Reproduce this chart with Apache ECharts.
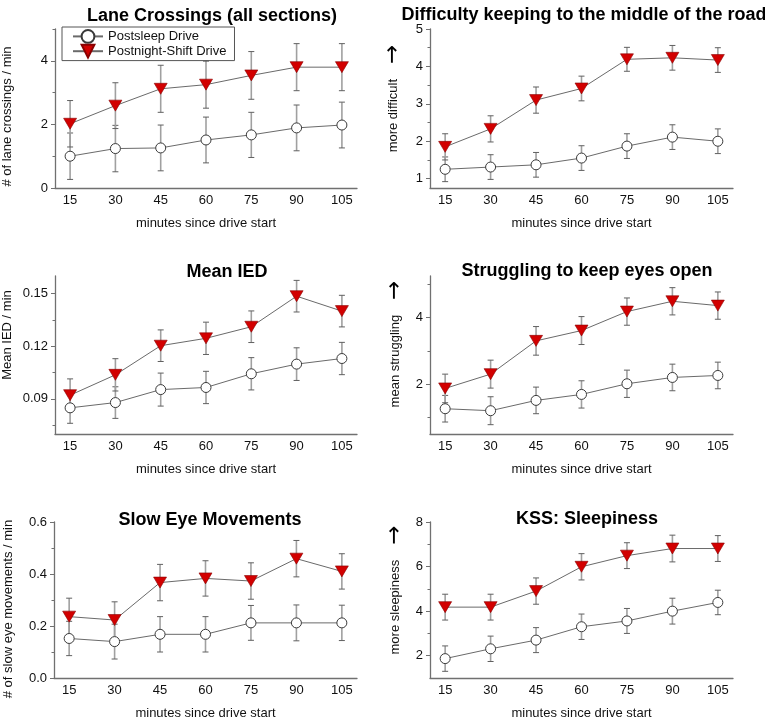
<!DOCTYPE html>
<html>
<head>
<meta charset="utf-8">
<script src="https://cdn.jsdelivr.net/npm/echarts@6/dist/echarts.min.js"></script>
<style>
html,body{margin:0;padding:0;background:#fff;}
#chart{width:765px;height:721px;}
</style>
</head>
<body>
<div id="chart"></div>
<script>
// ---- data ----
const minutes = [15, 30, 45, 60, 75, 90, 105];
const seriesNames = ['Postsleep Drive', 'Postnight-Shift Drive'];
const xAxisTitle = 'minutes since drive start';

// Lane crossings
const laneSleep = [1.00, 1.24, 1.26, 1.51, 1.67, 1.89, 1.98];
const laneSleepErr = [0.73, 0.73, 0.72, 0.72, 0.71, 0.72, 0.72];
const laneNight = [2.02, 2.59, 3.12, 3.25, 3.54, 3.80, 3.80];
const laneNightErr = [0.73, 0.72, 0.74, 0.74, 0.75, 0.74, 0.74];
const laneTicks = [0, 2, 4];
const laneMinor = [1, 3, 5];

// Difficulty keeping to the middle of the road
const diffSleep = [1.25, 1.31, 1.37, 1.55, 1.87, 2.11, 2.00];
const diffSleepErr = [0.33, 0.33, 0.33, 0.33, 0.33, 0.33, 0.33];
const diffNight = [1.85, 2.33, 3.10, 3.41, 4.19, 4.23, 4.17];
const diffNightErr = [0.35, 0.35, 0.35, 0.33, 0.32, 0.33, 0.33];
const diffTicks = [1, 2, 3, 4, 5];
const diffMinor = [1.5, 2.5, 3.5, 4.5];

// Mean IED
const iedSleep = [0.0849, 0.0879, 0.0953, 0.0965, 0.1043, 0.1098, 0.1130];
const iedSleepErr = [0.0088, 0.0090, 0.0094, 0.0092, 0.0092, 0.0093, 0.0092];
const iedNight = [0.0921, 0.1037, 0.1203, 0.1245, 0.1311, 0.1485, 0.1400];
const iedNightErr = [0.0093, 0.0092, 0.0090, 0.0092, 0.0090, 0.0090, 0.0090];
const iedTicks = [0.09, 0.12, 0.15];
const iedMinor = [0.075, 0.105, 0.135];

// Struggling to keep eyes open
const strugSleep = [1.26, 1.20, 1.51, 1.69, 2.01, 2.20, 2.26];
const strugSleepErr = [0.40, 0.42, 0.40, 0.41, 0.41, 0.40, 0.40];
const strugNight = [1.87, 2.30, 3.30, 3.61, 4.18, 4.49, 4.36];
const strugNightErr = [0.43, 0.42, 0.43, 0.42, 0.41, 0.41, 0.41];
const strugTicks = [2, 4];
const strugMinor = [1, 3, 5];

// Slow eye movements
const semSleep = [0.152, 0.140, 0.168, 0.168, 0.212, 0.212, 0.212];
const semSleepErr = [0.066, 0.067, 0.068, 0.068, 0.067, 0.069, 0.068];
const semNight = [0.236, 0.223, 0.367, 0.383, 0.373, 0.459, 0.410];
const semNightErr = [0.071, 0.070, 0.070, 0.068, 0.070, 0.070, 0.068];
const semTicks = [0.0, 0.2, 0.4, 0.6];
const semMinor = [0.1, 0.3, 0.5];

// KSS sleepiness
const kssSleep = [1.87, 2.31, 2.70, 3.30, 3.56, 4.00, 4.39];
const kssSleepErr = [0.57, 0.57, 0.56, 0.57, 0.56, 0.58, 0.55];
const kssNight = [4.18, 4.18, 4.90, 5.99, 6.49, 6.81, 6.81];
const kssNightErr = [0.58, 0.58, 0.59, 0.59, 0.58, 0.60, 0.58];
const kssTicks = [2, 4, 6, 8];
const kssMinor = [3, 5, 7];

// ---- layout / styles ----
const FONT = '"Liberation Sans", Arial, sans-serif';
const panels = [
  {title: 'Lane Crossings (all sections)', tx: 207, ty: 2, yName: '# of lane crossings / min', arrow: false,
   sleep: laneSleep, sleepErr: laneSleepErr, night: laneNight, nightErr: laneNightErr,
   ticks: laneTicks, minor: laneMinor, min: 0, max: 5, dec: 0,
   grid: {left: 54, top: 29, width: 303, height: 159}, nameGap: 41, namePad: [0, 16, 0, 0]},
  {title: 'Difficulty keeping to the middle of the road', tx: 579, ty: 1, yName: 'more difficult', arrow: true,
   sleep: diffSleep, sleepErr: diffSleepErr, night: diffNight, nightErr: diffNightErr,
   ticks: diffTicks, minor: diffMinor, min: 0.75, max: 5, dec: 0,
   grid: {left: 430, top: 29, width: 303, height: 159}, nameGap: 25, namePad: [0, 0, 0, 20]},
  {title: 'Mean IED', tx: 222, ty: 258, yName: 'Mean IED / min', arrow: false,
   sleep: iedSleep, sleepErr: iedSleepErr, night: iedNight, nightErr: iedNightErr,
   ticks: iedTicks, minor: iedMinor, min: 0.07, max: 0.16, dec: 2,
   grid: {left: 54, top: 276, width: 303, height: 158}, nameGap: 41, namePad: [0, 0, 0, 40]},
  {title: 'Struggling to keep eyes open', tx: 582, ty: 257, yName: 'mean struggling', arrow: true,
   sleep: strugSleep, sleepErr: strugSleepErr, night: strugNight, nightErr: strugNightErr,
   ticks: strugTicks, minor: strugMinor, min: 0.5, max: 5.25, dec: 0,
   grid: {left: 430, top: 276, width: 303, height: 158}, nameGap: 23, namePad: [0, 0, 0, 22]},
  {title: 'Slow Eye Movements', tx: 205, ty: 506, yName: '# of slow eye movements / min', arrow: false,
   sleep: semSleep, sleepErr: semSleepErr, night: semNight, nightErr: semNightErr,
   ticks: semTicks, minor: semMinor, min: 0, max: 0.6, dec: 1,
   grid: {left: 54, top: 522, width: 303, height: 158}, nameGap: 39, namePad: [0, 18, 0, 0]},
  {title: 'KSS: Sleepiness', tx: 582, ty: 505, yName: 'more sleepiness', arrow: true,
   sleep: kssSleep, sleepErr: kssSleepErr, night: kssNight, nightErr: kssNightErr,
   ticks: kssTicks, minor: kssMinor, min: 1, max: 8, dec: 0,
   grid: {left: 430, top: 522, width: 303, height: 158}, nameGap: 23, namePad: [0, 0, 0, 20]}
];

const AXIS_COLOR = '#707070';
const grids = [], xAxes = [], yAxes = [], series = [], titles = [];

function errRender(params, api) {
  const x = api.value(0), y = api.value(1), e = api.value(2);
  const top = api.coord([x, y + e]);
  const bot = api.coord([x, y - e]);
  const cap = 3;
  return {
    type: 'group',
    children: [
      {type: 'line', shape: {x1: top[0], y1: top[1], x2: bot[0], y2: bot[1]},
       style: {stroke: '#a0a0a0', lineWidth: 1.6}},
      {type: 'line', shape: {x1: top[0] - cap, y1: top[1], x2: top[0] + cap, y2: top[1]},
       style: {stroke: '#606060', lineWidth: 1}},
      {type: 'line', shape: {x1: bot[0] - cap, y1: bot[1], x2: bot[0] + cap, y2: bot[1]},
       style: {stroke: '#606060', lineWidth: 1}}
    ]
  };
}

panels.forEach((p, i) => {
  grids.push(Object.assign({containLabel: false}, p.grid));
  titles.push({
    text: p.title, left: p.tx, top: p.ty, textAlign: 'center',
    textStyle: {fontFamily: FONT, fontWeight: 'bold', fontSize: 18, color: '#000'}
  });
  xAxes.push({
    type: 'value', gridIndex: i, min: 10, max: 110,
    name: xAxisTitle, nameLocation: 'middle', nameGap: 29,
    nameTextStyle: {fontFamily: FONT, fontSize: 13, color: '#111'},
    axisLine: {lineStyle: {color: AXIS_COLOR, width: 1.3}},
    axisTick: {show: false},
    splitLine: {show: false},
    axisLabel: {customValues: minutes, margin: 6, fontFamily: FONT, fontSize: 13, color: '#111'}
  });
  const yName = p.arrow ? '{t|' + p.yName + '}{a|\u2192}' : p.yName;
  yAxes.push({
    type: 'value', gridIndex: i, min: p.min, max: p.max, position: 'left',
    name: yName, nameLocation: 'middle', nameGap: p.nameGap,
    nameTextStyle: {
      fontFamily: FONT, fontSize: 13, color: '#111', padding: p.namePad,
      rich: {
        t: {fontFamily: FONT, fontSize: 13, color: '#111'},
        a: {fontFamily: '"DejaVu Sans"', fontSize: 23, color: '#000', padding: [0, 0, 0, 15]}
      }
    },
    axisLine: {show: true, lineStyle: {color: AXIS_COLOR, width: 1.3}},
    axisTick: {show: true, customValues: p.ticks, length: 4, inside: false, lineStyle: {color: AXIS_COLOR}},
    splitLine: {show: false},
    axisLabel: {customValues: p.ticks, margin: 7, fontFamily: FONT, fontSize: 13, color: '#111',
      formatter: v => Number(v).toFixed(p.dec)}
  });
  yAxes.push({
    type: 'value', gridIndex: i, min: p.min, max: p.max, position: 'left', offset: 0,
    axisLine: {show: false},
    axisTick: {show: true, customValues: p.minor, length: 2.5, lineStyle: {color: AXIS_COLOR}},
    axisLabel: {show: false},
    splitLine: {show: false}
  });
  const yIdx = i * 2;
  series.push({
    type: 'line', name: seriesNames[0], xAxisIndex: i, yAxisIndex: yIdx, z: 3,
    data: minutes.map((m, k) => [m, p.sleep[k]]),
    symbol: 'circle', symbolSize: 10, showAllSymbol: true,
    lineStyle: {color: '#6a6a6a', width: 1},
    itemStyle: {color: '#ffffff', borderColor: '#3a3a3a', borderWidth: 1},
    animation: false
  });
  series.push({
    type: 'line', name: seriesNames[1], xAxisIndex: i, yAxisIndex: yIdx, z: 3,
    data: minutes.map((m, k) => [m, p.night[k]]),
    symbol: 'triangle', symbolRotate: 180, symbolSize: [13, 11], showAllSymbol: true,
    lineStyle: {color: '#6a6a6a', width: 1},
    itemStyle: {color: '#d20000', borderColor: '#8a0000', borderWidth: 0.6},
    animation: false
  });
  const groups = [
    {name: 'err-sleep', vals: p.sleep, errs: p.sleepErr},
    {name: 'err-night', vals: p.night, errs: p.nightErr}
  ];
  groups.forEach(g => {
    series.push({
      type: 'custom', name: g.name, xAxisIndex: i, yAxisIndex: yIdx, z: 1,
      renderItem: errRender, silent: true,
      encode: {x: 0, y: 1},
      data: minutes.map((m, k) => [m, g.vals[k], g.errs[k]])
    });
  });
});

const chart = echarts.init(document.getElementById('chart'), null, {renderer: 'canvas'});
chart.setOption({
  animation: false,
  backgroundColor: '#ffffff',
  title: titles,
  legend: {
    data: seriesNames, orient: 'vertical', left: 62, top: 27,
    borderColor: '#555', borderWidth: 1, padding: [2, 8, 2, 10],
    itemWidth: 30, itemHeight: 16, itemGap: 0,
    textStyle: {fontFamily: FONT, fontSize: 13, color: '#111'},
    selectedMode: false
  },
  grid: grids,
  xAxis: xAxes,
  yAxis: yAxes,
  series: series
});
</script>
</body>
</html>
